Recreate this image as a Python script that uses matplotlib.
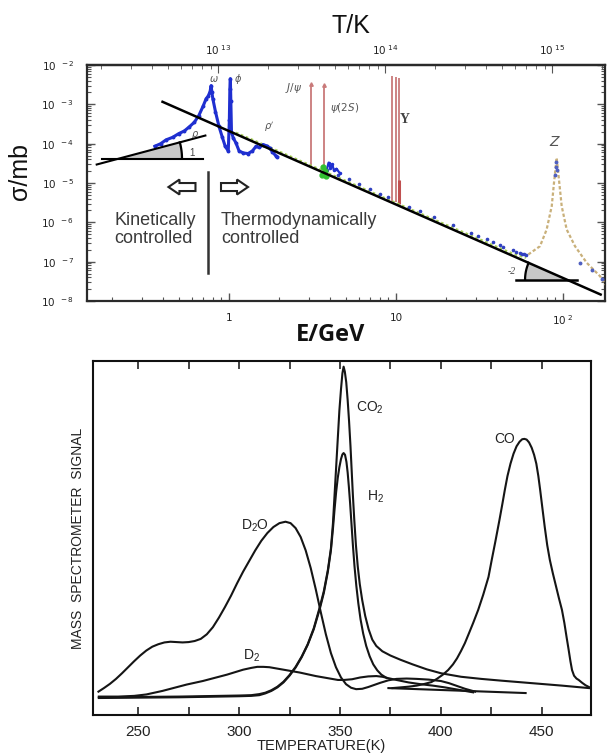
import matplotlib
matplotlib.use("Agg")
import matplotlib.pyplot as plt
import numpy as np
from matplotlib.patches import Polygon
from matplotlib.transforms import ScaledTranslation
from matplotlib.ticker import LogLocator, NullFormatter, FixedLocator

K_PER_GEV = 1.1605e13

# ---------------- top panel data (E in GeV, sigma in mb) ----------------
low_E = [0.36, 0.39, 0.42, 0.46, 0.50, 0.54, 0.58, 0.62, 0.66, 0.70, 0.73, 0.75,
         0.77, 0.782, 0.79, 0.80, 0.83, 0.87, 0.91, 0.95, 0.99, 1.005, 1.012,
         1.019, 1.026, 1.035, 1.06, 1.10, 1.15, 1.22, 1.30, 1.38, 1.45, 1.52,
         1.60, 1.68, 1.75, 1.82, 1.90, 1.95]
low_sig = [8.6e-5, 1.0e-4, 1.25e-4, 1.45e-4, 1.8e-4, 2.1e-4, 2.7e-4, 3.5e-4,
           5.2e-4, 9.0e-4, 1.4e-3, 1.6e-3, 2.1e-3, 3.0e-3, 2.0e-3, 1.4e-3,
           6.5e-4, 2.8e-4, 1.5e-4, 8.5e-5, 6.5e-5, 4.0e-4, 2.5e-3, 4.5e-3,
           1.2e-3, 2.0e-4, 1.4e-4, 1.05e-4, 6.5e-5, 5.8e-5, 5.6e-5, 6.5e-5,
           8.5e-5, 8.0e-5, 9.5e-5, 8.8e-5, 7.8e-5, 6.2e-5, 5.0e-5, 4.6e-5]

qcd_E = [1.1, 1.5, 2, 3, 4, 6, 10, 15, 20, 30, 40, 50, 60]
qcd_sig = [1.9e-4, 1.08e-4, 6.3e-5, 2.95e-5, 1.72e-5, 8.1e-6, 3.1e-6, 1.47e-6,
           8.6e-7, 4.1e-7, 2.4e-7, 1.6e-7, 1.25e-7]

cont_E = [4.5, 5.2, 6, 7, 8, 9, 12, 14, 17, 22, 28, 31, 35, 38, 42, 44, 50, 52,
          55, 57, 58, 60]
cont_sig = [1.6e-5, 1.25e-5, 9.3e-6, 6.9e-6, 5.4e-6, 4.3e-6, 2.5e-6, 1.9e-6,
            1.35e-6, 8.5e-7, 5.5e-7, 4.6e-7, 3.7e-7, 3.2e-7, 2.6e-7, 2.4e-7,
            1.95e-7, 1.8e-7, 1.65e-7, 1.6e-7, 1.55e-7, 1.5e-7]

charm_E = [3.85, 3.95, 4.05, 4.15, 4.25, 4.4, 4.6]
charm_sig = [2.2e-5, 3.3e-5, 2.4e-5, 3.0e-5, 2.1e-5, 2.3e-5, 1.8e-5]
green_E = [3.6, 3.68, 3.74, 3.8]
green_sig = [1.6e-5, 2.6e-5, 2.0e-5, 1.5e-5]

z_E = [61.9, 72.8, 79.8, 85.6, 88.3, 91.6, 95.0, 98.2, 105.2, 118, 138.7, 166.6, 182.7]
z_sig = [1.52e-7, 2.47e-7, 6.57e-7, 2.57e-6, 1.01e-5, 4.37e-5, 1.01e-5, 2.57e-6,
         6.57e-7, 2.47e-7, 9.35e-8, 4.27e-8, 2.38e-8]
z_pts_E = [89.5, 90.5, 91.2, 92.0, 126.5, 150, 170]
z_pts_sig = [1.6e-5, 2.5e-5, 3.5e-5, 2.2e-5, 9.3e-8, 6.0e-8, 3.6e-8]

res_E = [3.097, 3.686, 9.46, 10.02, 10.36]
res_top = [3.2e-3, 3.1e-3, 5.4e-3, 5.0e-3, 4.7e-3]
res_bottom = [2.5e-5, 1.8e-5, 3.4e-6, 3.2e-6, 3.0e-6]

fit_E = [0.40, 168]
fit_sig = [1.16e-3, 1.46e-8]

# ---------------- bottom panel data (T in K, signal arbitrary) ----------------
T_d2o = [230.3, 233, 236, 239, 242, 245, 248, 251, 254, 257, 260, 263, 266, 269,
         272, 275, 278, 281, 284, 287, 290, 293, 296, 299, 302, 305, 308, 311,
         314, 317, 320, 323, 325.5, 328, 330.5, 333, 335.5, 338, 340.5, 343,
         345.5, 348, 350.5, 353, 355.5, 358, 361, 364, 367, 370, 374, 378, 383,
         388, 394, 400, 404, 408, 412, 417]
S_d2o = [6.6, 7.6, 8.8, 10.2, 11.8, 13.5, 15.2, 16.8, 18.2, 19.3, 20.0, 20.5,
         20.7, 20.6, 20.5, 20.6, 20.9, 21.5, 22.8, 24.8, 27.5, 30.5, 33.7, 37.2,
         40.5, 43.5, 46.5, 49.2, 51.4, 53.1, 54.2, 54.6, 54.2, 52.8, 50.3, 46.5,
         41.5, 35.5, 29.0, 22.8, 17.5, 13.5, 10.6, 8.7, 7.7, 7.3, 7.4, 7.9, 8.5,
         9.1, 9.8, 10.2, 10.3, 10.2, 10.0, 9.6, 9.0, 8.2, 7.4, 6.6]

T_d2 = [230.5, 240, 248, 254, 258, 262, 266, 270, 274, 278, 282, 286, 290, 294,
        298, 302, 306, 309, 312, 315, 318, 322, 326, 330, 334, 338, 342, 346,
        349, 352, 356, 360, 364, 368, 371, 374, 378, 384, 390, 396, 402, 408,
        413, 416]
S_d2 = [5.2, 5.2, 5.4, 5.8, 6.3, 6.8, 7.4, 8.0, 8.6, 9.1, 9.6, 10.2, 10.8, 11.4,
        12.1, 12.8, 13.3, 13.6, 13.6, 13.5, 13.2, 12.8, 12.4, 12.0, 11.5, 11.0,
        10.6, 10.2, 9.9, 9.9, 10.1, 10.6, 10.9, 11.0, 10.8, 10.4, 9.9, 9.2,
        8.7, 8.3, 7.8, 7.2, 6.7, 6.4]

T_co2 = [230.5, 250, 270, 290, 300, 306, 310, 313, 316, 319, 322, 325, 328, 331,
         334, 337, 340, 342, 344, 345.5, 346.5, 347.3, 348.1, 348.9, 349.7,
         350.5, 351.2, 351.8, 352.4, 353.1, 353.8, 354.5, 355.2, 355.8, 356.4,
         357.1, 357.9, 358.8, 359.8, 361, 362.5, 364.2, 366, 368, 371, 375, 380,
         386, 393, 400, 410, 420, 430, 445, 460, 473.4]
S_co2 = [5.0, 5.1, 5.2, 5.4, 5.5, 5.6, 5.9, 6.3, 7.0, 8.0, 9.4, 11.3, 13.6, 16.5,
         20.0, 24.5, 30.5, 35.0, 41.0, 47.0, 54.0, 62.0, 70.0, 78.0, 86.0, 92.0,
         96.5, 98.4, 97.0, 94.0, 89.0, 83.0, 76.0, 69.0, 62.0, 55.0, 48.0, 42.0,
         37.0, 32.5, 28.0, 24.2, 21.3, 19.5, 18.0, 16.8, 15.6, 14.3, 12.9, 11.8,
         10.8, 10.2, 9.7, 9.0, 8.3, 7.6]

T_h2 = [230.5, 250, 270, 290, 300, 306, 310, 313, 316, 319, 322, 325, 328, 331,
        334, 337, 340, 342, 344, 345.5, 346.5, 347.3, 348.1, 348.9, 349.7,
        350.5, 351.2, 351.8, 352.5, 353.2, 353.8, 354.4, 355, 355.7, 356.4,
        357.2, 358.1, 359.1, 360.2, 361.5, 363, 364.7, 366.5, 368.5, 370.5, 373]
S_h2 = [4.8, 4.9, 5.0, 5.2, 5.3, 5.4, 5.6, 6.1, 6.8, 7.8, 9.2, 11.1, 13.4, 16.3,
        19.8, 24.2, 30.0, 34.5, 40.5, 46.5, 52.5, 58.0, 63.0, 67.0, 70.0, 72.3,
        73.6, 74.0, 73.5, 71.5, 68.5, 64.5, 60.0, 54.0, 48.0, 42.0, 36.5, 31.5,
        27.0, 23.0, 19.5, 16.6, 14.3, 12.6, 11.4, 10.5]

T_tail = [374, 442]
S_tail = [7.6, 6.2]

T_co = [376, 380, 384, 388, 392, 395.3, 398, 401, 403.6, 406, 408, 410, 411.9,
        414, 416, 418.5, 421, 423.6, 425.2, 427, 429, 430.5, 431.7, 433, 434.5,
        436, 437.5, 439, 440.3, 441.4, 442.5, 443.7, 445, 446.2, 447.3, 448.3,
        449.2, 450.3, 451.5, 452.7, 454, 455.5, 457, 458.5, 460, 461.2, 462.3,
        463.3, 464.2, 465, 466, 467.2, 468.3, 470, 471.7, 473.4]
S_co = [7.6, 7.8, 8.0, 8.3, 8.8, 9.3, 10.2, 11.4, 12.7, 14.3, 16.0, 18.1, 20.3,
        23.2, 26.0, 29.7, 34.0, 39.0, 43.8, 49.0, 55.0, 59.7, 63.6, 67.5, 71.0,
        73.8, 75.9, 77.2, 77.9, 78.0, 77.8, 77.0, 75.5, 73.5, 71.0, 67.5, 63.6,
        58.5, 53.0, 48.0, 43.8, 40.0, 36.5, 33.0, 29.7, 26.0, 22.0, 18.5, 15.2,
        12.7, 11.1, 10.3, 9.9, 9.1, 8.4, 7.9]

temp_ticks = [250, 300, 350, 400, 450]
temp_minor = [275, 325, 375, 425]

# ---------------- figure ----------------
fig = plt.figure(figsize=(6.08, 7.54), dpi=100)
fig.patch.set_facecolor("white")

SANS = ["Liberation Sans", "DejaVu Sans"]
SERIF = ["Liberation Serif", "DejaVu Serif"]

ax = fig.add_axes([87 / 608, 1 - 301 / 754, 518 / 608, 236 / 754])
ax.set_xscale("log")
ax.set_yscale("log")
ax.set_xlim(0.1412, 178.4)
ax.set_ylim(1e-8, 1e-2)

for s in ax.spines.values():
    s.set_linewidth(1.6)
    s.set_color("#2a2a2a")

ax.yaxis.set_minor_locator(LogLocator(base=10, subs=np.arange(2, 10), numticks=20))
ax.yaxis.set_minor_formatter(NullFormatter())
ax.set_yticks([10.0 ** k for k in range(-8, -1)])
ax.set_yticklabels([r"$\mathregular{10^{\ \ %d}}$" % k for k in range(-8, -1)],
                   fontsize=7.5, color="#222")
ax.set_xticks([1, 10, 100])
ax.set_xticklabels(["1", "10", r"$\mathregular{10^{\ 2}}$"], fontsize=7.5, color="#222")
ax.xaxis.set_minor_locator(LogLocator(base=10, subs=np.arange(2, 10), numticks=20))
ax.xaxis.set_minor_formatter(NullFormatter())
ax.tick_params(which="both", direction="in", top=False, right=True, color="#555")
ax.tick_params(which="major", length=6, width=1.0, pad=9)
ax.tick_params(which="minor", length=3, width=0.8)

secax = ax.secondary_xaxis("top", functions=(lambda e: e * K_PER_GEV,
                                             lambda t: t / K_PER_GEV))
secax.set_xticks([1e13, 1e14, 1e15])
secax.set_xticklabels([r"$\mathregular{10^{\ 13}}$", r"$\mathregular{10^{\ 14}}$",
                       r"$\mathregular{10^{\ 15}}$"], fontsize=7.5, color="#222")
secax.xaxis.set_minor_locator(LogLocator(base=10, subs=np.arange(2, 10), numticks=20))
secax.xaxis.set_minor_formatter(NullFormatter())
secax.tick_params(which="both", direction="in", color="#555")
secax.tick_params(which="major", length=6, pad=6)
secax.tick_params(which="minor", length=3)
secax.spines["top"].set_linewidth(1.6)

# resonances
ax.vlines(res_E, res_bottom, res_top, color="#c97a7a", lw=1.3, zorder=2)
ax.plot(res_E[:2], res_top[:2], ls="none", marker="^", ms=2.5, color="#c97a7a", zorder=2)
ax.vlines(res_E[-1], res_bottom[-1], 1.2e-5, color="#c05050", lw=2.2, zorder=2)

# QCD continuum dotted and Z line
ax.plot(qcd_E, qcd_sig, color="#a8cf5a", lw=1.6, ls=(0, (1.2, 1.2)), zorder=3)
ax.plot(z_E, z_sig, color="#c9b07a", lw=1.6, ls=(0, (1.5, 1.0)), zorder=3)

# data
ax.plot(low_E, low_sig, color="#1f2fd0", lw=2.2, marker="o", ms=1.8, zorder=4)
ax.plot(cont_E, cont_sig, ls="none", marker="o", ms=1.6, color="#3040c0", zorder=4)
ax.plot(charm_E, charm_sig, color="#2030d0", lw=1.6, marker="o", ms=1.5, zorder=4)
ax.plot(green_E, green_sig, ls="none", marker="o", ms=3.5, color="#30c030", zorder=4)
ax.plot(z_pts_E, z_pts_sig, ls="none", marker="o", ms=1.8, color="#5060c0", zorder=4)

# fitted 1/E^2 line
ax.plot(fit_E, fit_sig, color="black", lw=1.8, zorder=6)


def anchored(xd, yd):
    return fig.dpi_scale_trans + ScaledTranslation(xd, yd, ax.transData)


def wedge(xd, yd, r_px, a0, a1):
    ang = np.radians(np.linspace(a0, a1, 40))
    arc = np.column_stack([r_px * np.cos(ang), r_px * np.sin(ang)]) / 100.0
    pts = np.vstack([[0, 0], arc])
    tr = anchored(xd, yd)
    ax.add_patch(Polygon(pts, closed=True, facecolor="#c8c8c8", edgecolor="none",
                         transform=tr, zorder=5))
    ax.plot(arc[:, 0], arc[:, 1], color="black", lw=1.6, transform=tr, zorder=6)


# slope-1 triangle (left)
ax.plot([0.1614, 0.722], [2.95e-5, 1.61e-4], color="black", lw=1.5, zorder=6)
ax.plot([0.1725, 0.703], [4.11e-5, 4.11e-5], color="black", lw=1.5, zorder=6)
wedge(0.2165, 4.11e-5, 64, 0, 14.9)
# slope -2 triangle (right)
ax.plot([52, 122], [3.48e-8, 3.48e-8], color="black", lw=1.8, zorder=6)
wedge(105.3, 3.48e-8, 41.7, 156.2, 180)

# block arrows
arrow_shape = np.array([[-13.5, 0], [-2.5, 7.5], [-2.5, 4], [13.5, 4], [13.5, -4],
                        [-2.5, -4], [-2.5, -7.5]]) / 100.0
ax.add_patch(Polygon(arrow_shape, closed=True, facecolor="white", edgecolor="#222",
                     lw=1.5, transform=anchored(0.523, 7.9e-6), zorder=6))
ax.add_patch(Polygon(arrow_shape * np.array([-1, 1]), closed=True, facecolor="white",
                     edgecolor="#222", lw=1.5, transform=anchored(1.079, 7.9e-6),
                     zorder=6))
# divider
ax.plot([0.7486, 0.7486], [1.85e-5, 5.3e-8], color="#333", lw=1.8, zorder=6)

ax.text(0.205, 6.5e-7, "Kinetically\ncontrolled", fontsize=13, family=SANS,
        color="#3a3a3a", ha="left", va="center", linespacing=1.05)
ax.text(0.896, 6.5e-7, "Thermodynamically\ncontrolled", fontsize=13, family=SANS,
        color="#3a3a3a", ha="left", va="center", linespacing=1.05)

# annotations
ann = dict(family=SERIF, color="#555", style="italic", ha="center", va="center")
ax.text(0.813, 4.5e-3, r"$\omega$", fontsize=7, **ann)
ax.text(1.13, 4.3e-3, r"$\phi$", fontsize=7, **ann)
ax.text(0.63, 1.7e-4, r"$\rho$", fontsize=7, **ann)
ax.text(1.73, 2.6e-4, r"$\rho'$", fontsize=7, **ann)
ax.text(2.43, 2.6e-3, r"$J/\psi$", fontsize=7.5, **ann)
ax.text(4.95, 8.3e-4, r"$\psi(2S)$", fontsize=7.5, **ann)
ax.text(11.3, 4.0e-4, "Υ", fontsize=10, family=SERIF, color="#444", weight="bold",
        ha="center", va="center")
ax.text(89.5, 1.1e-4, r"$Z$", fontsize=10, **ann)
ax.text(0.60, 5.9e-5, "1", fontsize=7, family=SANS, color="#444", ha="center", va="center")
ax.text(49, 5.7e-8, "-2", fontsize=7, family=SERIF, style="italic", color="#444",
        ha="center", va="center")

fig.text(351 / 608, 1 - 26 / 754, "T/K", fontsize=18, family=SANS, ha="center",
         va="center", color="#111")
fig.text(331 / 608, 1 - 335 / 754, "E/GeV", fontsize=17, family=["Open Sans", "DejaVu Sans"],
         weight="bold", ha="center", va="center", color="#111")
fig.text(20 / 608, 1 - 172 / 754, "σ/mb", fontsize=18, family=SANS, rotation=90,
         ha="center", va="center", color="#111")

# ---------------- bottom panel ----------------
ax2 = fig.add_axes([93 / 608, 1 - 715 / 754, 498 / 608, 354 / 754])
ax2.set_xlim(227.6, 474.4)
ax2.set_ylim(0, 100)
for s in ax2.spines.values():
    s.set_linewidth(1.5)
    s.set_color("#111")
ax2.set_yticks([])
ax2.set_xticks(temp_ticks)
ax2.set_xticklabels([str(t) for t in temp_ticks], fontsize=11, family=SANS, color="#222")
ax2.xaxis.set_minor_locator(FixedLocator(temp_minor))
ax2.tick_params(axis="x", which="both", direction="in", top=True, bottom=True,
                length=6, width=1.2, pad=7, color="#222")

lc = dict(color="#151515", lw=1.5)
ax2.plot(T_d2o, S_d2o, **lc)
ax2.plot(T_d2, S_d2, **lc)
ax2.plot(T_co2, S_co2, **lc)
ax2.plot(T_h2, S_h2, **lc)
ax2.plot(T_tail, S_tail, **lc)
ax2.plot(T_co, S_co, **lc)

lab = dict(fontsize=10, family=SANS, color="#222", ha="center", va="center")
ax2.text(307.7, 53.5, r"$\mathregular{D_2O}$", **lab)
ax2.text(306, 16.7, r"$\mathregular{D_2}$", **lab)
ax2.text(364.8, 86.7, r"$\mathregular{CO_2}$", **lab)
ax2.text(367.8, 61.6, r"$\mathregular{H_2}$", **lab)
ax2.text(431.5, 78, "CO", **lab)

fig.text(78 / 608, 1 - 538 / 754, "MASS  SPECTROMETER  SIGNAL", fontsize=10,
         family=SANS, rotation=90, ha="center", va="center", color="#222")
fig.text(321 / 608, 1 - 746 / 754, "TEMPERATURE(K)", fontsize=10.5, family=SANS,
         ha="center", va="center", color="#222")

fig.savefig("out.png", dpi=100, facecolor="white")
